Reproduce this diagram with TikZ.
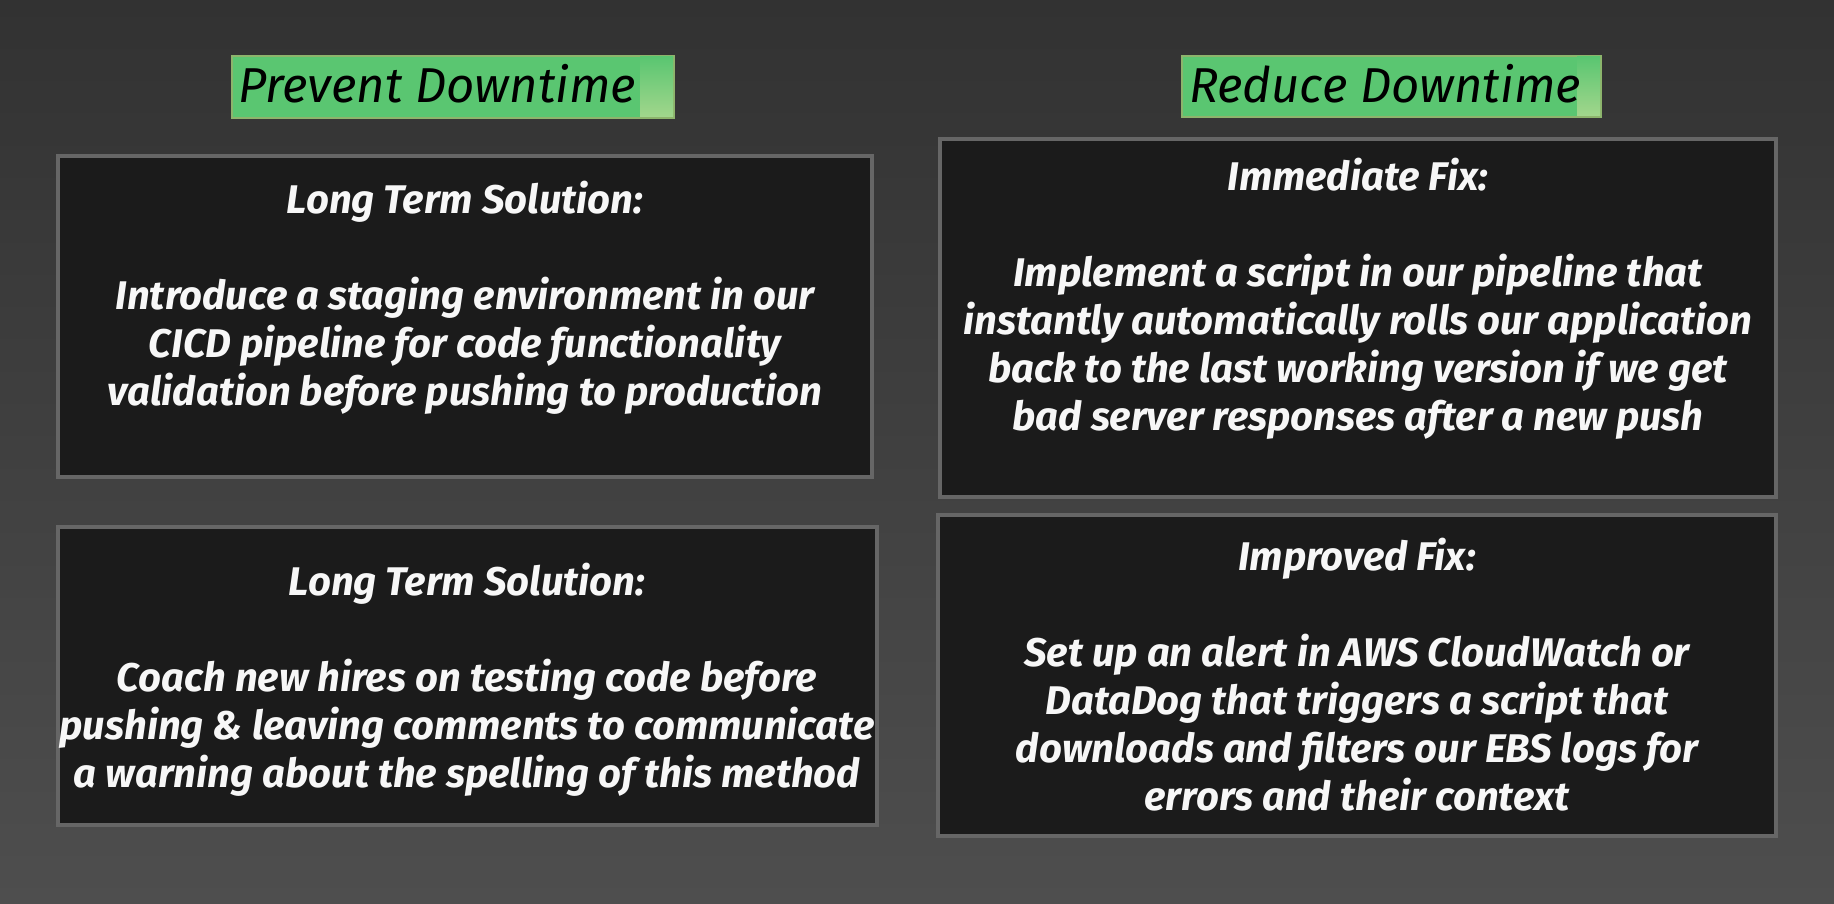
\documentclass[tikz,border=0pt]{standalone}
\usepackage{fontspec}
\setmainfont{Fira Sans}
\definecolor{bgtop}{HTML}{323232}
\definecolor{bgbot}{HTML}{4E4E4E}
\definecolor{boxfill}{HTML}{1B1B1B}
\definecolor{boxborder}{HTML}{666666}
\definecolor{tgreen}{HTML}{5AC671}
\definecolor{tgreenlight}{HTML}{A2D68C}
\definecolor{tborder}{HTML}{8DB46C}
\definecolor{bodytext}{HTML}{F7F7F7}
\begin{document}
\begin{tikzpicture}[x=1pt,y=-1pt,
  panel/.style={draw=boxborder, line width=4pt, fill=boxfill, inner sep=0pt, outer sep=0pt, anchor=north west},
  titlebox/.style={draw=tborder, line width=1.5pt, fill=tgreen, inner sep=0pt, outer sep=0pt, anchor=north west},
  titletext/.style={anchor=base west, inner sep=0pt, text=black, font=\fontsize{49}{56}\selectfont\itshape},
  bodytext/.style={anchor=base, inner sep=0pt, align=center, text=bodytext, font=\fontsize{40}{48}\selectfont\bfseries\itshape}]
\shade[top color=bgtop, bottom color=bgbot] (0,0) rectangle (1834,904);
\useasboundingbox (0,0) rectangle (1834,904);
% title boxes
\node[titlebox, minimum width=442pt, minimum height=62pt] (prevbox) at (232,56) {};
\shade[top color=tgreen, bottom color=tgreenlight] (640,57) rectangle (673,117);
\node[titletext] (prev) at (238,103) {Prevent Downtime};
\node[titlebox, minimum width=419pt, minimum height=61pt] (redbox) at (1182,56) {};
\shade[top color=tgreen, bottom color=tgreenlight] (1577,57) rectangle (1600,116);
\node[titletext] (red) at (1189,103) {Reduce Downtime};
% panels
\node[panel, minimum width=814pt, minimum height=321pt] (p1) at (58,156) {};
\node[panel, minimum width=819pt, minimum height=298pt] (p2) at (58,527) {};
\node[panel, minimum width=836pt, minimum height=358pt] (p3) at (940,139) {};
\node[panel, minimum width=838pt, minimum height=321pt] (p4) at (938,515) {};
% texts (anchor = baseline of the last line)
\node[bodytext] (t1) at (465,405) {Long Term Solution:\\[48pt]Introduce a staging environment in our\\CICD pipeline for code functionality\\validation before pushing to production};
\node[bodytext] (t2) at (467,787) {Long Term Solution:\\[48pt]Coach new hires on testing code before\\pushing \& leaving comments to communicate\\a warning about the spelling of this method};
\node[bodytext] (t3) at (1358,430) {Immediate Fix:\\[48pt]Implement a script in our pipeline that\\instantly automatically rolls our application\\back to the last working version if we get\\bad server responses after a new push};
\node[bodytext] (t4) at (1357,810) {Improved Fix:\\[48pt]Set up an alert in AWS CloudWatch or\\DataDog that triggers a script that\\downloads and filters our EBS logs for\\errors and their context};
\end{tikzpicture}
\end{document}
